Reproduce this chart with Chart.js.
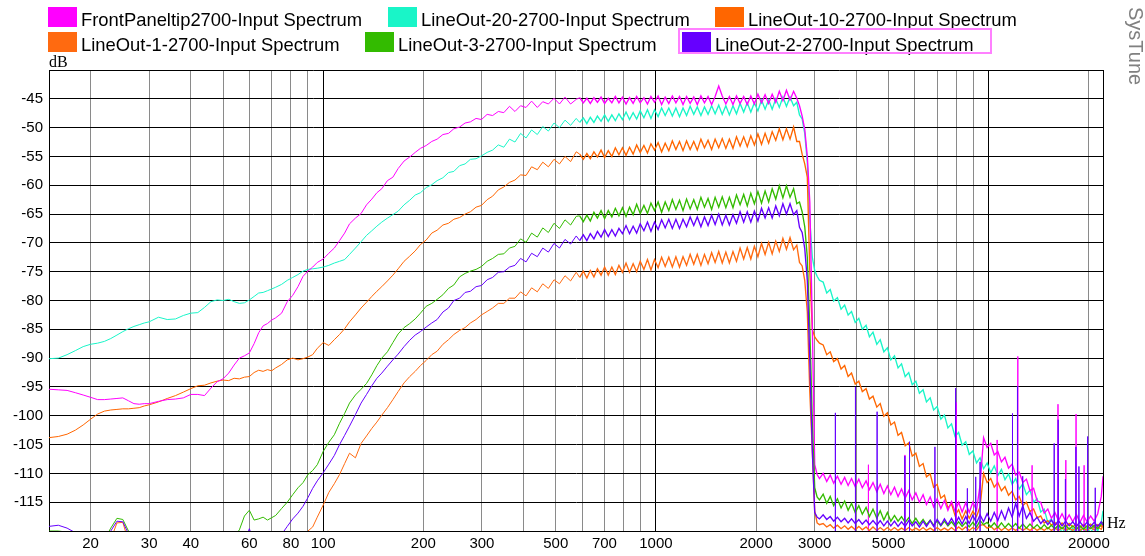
<!DOCTYPE html>
<html><head><meta charset="utf-8">
<script src="https://cdn.jsdelivr.net/npm/chart.js@4.4.1/dist/chart.umd.min.js"></script>
<style>html,body{margin:0;padding:0;background:#fff;}canvas{display:block;}</style>
</head><body>
<canvas id="c" width="1145" height="556"></canvas>
<script>
// ---- data ----
const freqHz = [
// A 15-100
15,16,17,18,19,20,21,22,23,24, 25,26,27,28,29,30,32,34,36,38, 40,42,44,46,48,50,52,54,56,58, 60,62,64,66,68,70,72,75,78,81, 84,87,90,93,96,100,
// B 104-576
104,108,112,116,120,125,130,135,140,145, 150,156,162,168,175,182,189,196,204,212, 220,229,238,247,257,267,277,288,299,311, 323,336,349,363,377,392,407,423,440,457, 475,494,513,533,554,576,
// C 590-2700
590,605,620,635,651,667,684,701,719,737, 755,774,793,813,833,854,875,897,920,943, 966,990,1015,1040,1066,1093,1120,1148,1177,1206,
1236,1267,1299,1331,1365,1399,1434,1470,1506,1544, 1582,1622,1662,1704,1746,1790,1835,1881,1928,1976, 2025,2076,2128,2181,2235,2291,2348,2407,2467,2529, 2592,2650,2700,
// D roll-off
2750,2800,2850,2900,2950,3000,3050,3100,
// E 3180-22050
3180,3260,3340,3420,3510,3600,3690,3780,3870,3970, 4070,4170,4280,4380,4490,4610,4720,4840,4960,5080,
5210,5340,5470,5610,5750,5890,6040,6190,6350,6500, 6670,6830,7000,7180,7360,7540,7730,7920,8120,8320,
8530,8740,8960,9190,9420,9650,9890,10140,10390,10650, 10920,11190,11470,11760,12050,12350,12660,12980,13300,13640,
13980,14330,14680,15050,15430,15810,16210,16610,17030,17450, 17890,18340,18790,19260,19750,20240,20750,21260,21790,22050];

const frontPanelTip = [
-95.4,-95.5,-95.6,-96.0,-96.4,-96.8,-97.2,-97.2,-97.1,-97.0, -96.9,-97.4,-97.9,-98.0,-97.9,-97.9,-97.5,-97.2,-97.1,-96.9,
-96.3,-96.3,-96.5,-95.2,-94.1,-93.6,-92.6,-91.2,-90.0,-89.6, -89.1,-87.5,-85.6,-84.4,-84.0,-83.4,-83.0,-82.2,-80.2,-79.1,
-77.6,-75.8,-74.9,-74.2,-73.4,-72.8,
-71.8,-70.9,-69.6,-68.3,-66.7,-65.7,-64.9,-63.4,-62.4,-61.3, -60.6,-59.2,-58.6,-57.1,-55.8,-55.1,-54.3,-53.6,-53.1,-52.4,
-52.0,-51.2,-51.0,-50.2,-49.9,-49.2,-49.0,-48.4,-48.6,-47.7, -47.9,-47.2,-47.4,-46.3,-47.2,-46.2,-46.5,-45.4,-46.5,-45.5,
-45.9,-44.9,-45.9,-44.7,-45.9,-45.1,
-44.8,-45.7,-44.9,-45.8,-44.8,-45.6,-44.7,-45.8,-44.9,-45.7, -44.6,-45.7,-44.7,-45.9,-44.8,-45.8,-44.6,-45.7,-44.8,-45.9,
-44.6,-45.6,-44.5,-46.0,-44.7,-45.8,-44.5,-45.7,-44.6,-46.0, -44.6,-45.8,-44.7,-46.0,-44.5,-45.7,-44.6,-46.0,-44.6,-42.8,
-44.5,-45.9,-44.6,-46.0,-44.5,-45.8,-44.6,-46.0,-44.5,-45.9, -44.2,-45.7,-44.3,-45.8,-44.2,-45.6,-43.7,-45.3,-43.5,-45.2,
-43.7,-44.9,-46.2,
-48.0,-50.3,-55.0,-63.0,-84.0,-108.5,-110.2,-110.9,
-110.0,-111.4,-110.3,-111.7,-110.5,-111.9,-110.7,-112.1,-110.9,-112.3, -111.0,-112.5,-111.3,-112.8,-111.6,-113.2,-111.9,-113.5,-112.2,-113.7,
-112.4,-114.0,-112.7,-114.3,-113.0,-114.6,-113.4,-115.0,-113.7,-115.4, -114.1,-115.8,-114.4,-116.1,-114.7,-116.4,-114.9,-116.6,-115.0,-116.7,
-115.1,-116.8,-115.0,-116.4,-112.0,-103.8,-105.5,-104.8,-106.8,-106.2, -108.0,-107.2,-109.1,-108.4,-110.3,-109.8,-111.6,-111.0,-113.0,-112.6,
-114.8,-115.0,-116.9,-116.2,-117.8,-116.8,-118.2,-117.0,-118.3,-117.2, -118.4,-117.1,-118.5,-117.3,-118.4,-117.4,-118.3,-117.0,-114.0,-110.5];

const lineOut20 = [
-90.1,-90.0,-89.4,-88.7,-88.0,-87.6,-87.4,-87.1,-86.6,-86.0, -85.4,-84.9,-84.5,-84.2,-83.9,-83.7,-82.9,-83.3,-83.2,-82.6,
-82.2,-82.1,-81.2,-80.2,-79.9,-80.0,-79.8,-80.2,-80.5,-80.4, -79.9,-79.3,-78.7,-78.6,-78.3,-78.0,-77.7,-77.2,-76.5,-76.0,
-75.5,-74.9,-74.6,-74.5,-74.4,-74.2,
-73.9,-73.5,-73.2,-72.9,-72.0,-70.9,-69.8,-68.7,-67.9,-67.1, -66.4,-65.7,-65.1,-64.5,-63.4,-62.6,-61.7,-61.3,-60.4,-59.9,
-59.2,-58.7,-57.8,-57.6,-56.6,-56.3,-55.5,-55.4,-54.9,-54.3, -53.9,-53.0,-53.4,-52.0,-52.5,-51.0,-51.8,-50.4,-51.2,-49.8,
-50.6,-49.2,-50.0,-48.7,-49.6,-48.4,
-49.1,-48.3,-49.3,-48.2,-49.1,-48.0,-48.9,-47.8,-48.9,-47.8, -48.8,-47.6,-48.6,-47.3,-48.6,-47.4,-48.5,-47.1,-48.3,-46.9,
-48.4,-46.9,-48.1,-46.6,-47.9,-46.6,-48.0,-46.6,-48.1,-46.6, -47.9,-46.3,-47.7,-46.4,-47.9,-46.4,-47.7,-46.2,-47.6,-46.1,
-47.7,-46.2,-47.8,-46.2,-47.6,-45.8,-47.3,-45.7,-47.3,-45.7, -47.1,-45.2,-46.8,-45.2,-46.8,-45.0,-46.5,-44.7,-46.3,-44.7,
-46.2,-45.6,-47.8,
-48.5,-51.0,-56.0,-66.0,-72.5,-74.8,-75.8,-76.5,
-76.8,-78.7,-78.1,-80.1,-79.5,-81.5,-80.8,-82.5,-81.9,-83.8, -83.1,-85.0,-84.3,-86.3,-85.5,-87.6,-86.8,-88.9,-88.2,-90.3,
-89.6,-91.7,-91.0,-93.2,-92.5,-94.6,-94.0,-96.1,-95.5,-97.6, -96.9,-99.0,-98.4,-100.6,-99.9,-102.1,-101.4,-103.6,-102.9,-105.1,
-104.5,-106.7,-106.1,-108.2,-107.3,-109.2,-108.2,-109.9,-108.7,-110.4, -109.3,-111.1,-110.1,-111.9,-110.9,-112.7,-111.8,-113.7,-112.9,-115.0,
-114.4,-116.7,-116.2,-118.5,-117.9,-119.6,-119.0,-120.3,-119.4,-120.5, -119.5,-120.4,-119.6,-120.5,-119.4,-120.3,-119.2,-120.0,-118.5,-116.5];

const lineOut10 = [
-103.8,-103.6,-103.2,-102.5,-101.6,-100.6,-99.7,-99.2,-99.0,-98.9, -98.8,-98.8,-98.7,-98.6,-98.3,-98.1,-97.6,-97.0,-96.5,-95.9,
-95.3,-94.8,-94.7,-94.3,-94.0,-93.8,-93.9,-93.5,-93.6,-93.3, -93.2,-92.5,-92.1,-92.3,-92.0,-92.2,-91.7,-91.1,-90.3,-90.0,
-90.3,-90.1,-89.8,-89.4,-88.3,-87.3,
-87.8,-86.8,-85.9,-84.9,-83.7,-82.5,-81.3,-80.3,-79.3,-78.4, -77.6,-76.6,-75.6,-74.5,-73.2,-72.3,-71.4,-70.3,-69.5,-68.3,
-67.8,-66.9,-66.6,-65.9,-65.6,-65.0,-64.6,-63.8,-63.5,-62.5, -61.9,-60.8,-60.3,-59.5,-59.1,-58.2,-58.3,-56.8,-57.3,-56.0,
-56.8,-55.5,-56.3,-55.0,-55.9,-54.2,
-54.6,-55.5,-54.5,-55.4,-54.2,-55.1,-53.9,-55.2,-54.0,-55.0, -53.5,-54.7,-53.5,-54.8,-53.4,-54.6,-53.0,-54.3,-53.1,-54.4,
-52.8,-53.9,-52.6,-54.2,-52.7,-54.0,-52.3,-53.8,-52.4,-54.0, -52.3,-53.8,-52.4,-53.9,-52.0,-53.5,-52.2,-53.8,-52.0,-53.5,
-51.9,-53.6,-52.0,-53.6,-51.6,-53.2,-51.6,-53.3,-51.4,-53.0, -51.1,-52.9,-51.0,-52.7,-50.7,-52.2,-50.2,-52.1,-50.2,-52.0,
-49.9,-52.4,-52.4,
-54.6,-56.3,-58.6,-75.0,-85.0,-86.3,-86.9,-87.4,
-87.7,-89.4,-88.9,-90.6,-90.1,-91.9,-91.3,-93.2,-92.6,-94.5, -94.0,-95.8,-95.3,-97.1,-96.6,-98.5,-97.9,-100.1,-99.5,-101.6,
-101.1,-103.4,-102.9,-105.2,-104.7,-107.0,-106.5,-108.8,-108.3,-110.6, -110.1,-112.4,-111.9,-114.3,-113.8,-116.0,-115.3,-117.3,-116.3,-117.9,
-116.5,-117.8,-116.6,-117.5,-115.8,-110.0,-111.6,-110.9,-112.4,-111.6, -113.0,-112.3,-113.8,-113.1,-114.6,-114.0,-115.6,-115.0,-116.6,-116.2,
-117.7,-117.4,-118.6,-118.2,-119.0,-118.5,-119.2,-118.6,-119.3,-118.7, -119.3,-118.8,-119.4,-118.9,-119.3,-118.8,-119.4,-118.9,-119.2,-118.8];

const lineOut1 = [
-122,-122,-122,-122,-122,-122,-122,-122,-121.5,-118.6, -118.5,-121.8,-122,-122,-122,-122,-122,-122,-122,-122,
-122,-122,-122,-122,-122,-122,-122,-122,-122,-122, -122,-122,-122,-122,-122,-122,-122,-122,-122,-122,
-122,-121.0,-120.0,-119.3,-117.6,-115.5,
-113.3,-111.8,-110.2,-108.3,-106.5,-107.3,-104.8,-103.5,-102.2,-101.1, -99.9,-98.6,-97.2,-95.8,-94.3,-93.2,-92.3,-91.3,-90.4,-89.4,
-88.8,-87.6,-86.8,-85.9,-85.2,-84.7,-83.9,-83.3,-82.5,-81.9, -81.3,-80.5,-80.5,-79.6,-79.6,-78.5,-79.2,-77.8,-78.5,-77.1,
-77.9,-76.4,-77.1,-75.7,-76.6,-75.1,
-76.0,-74.9,-76.1,-74.8,-75.9,-74.5,-75.6,-74.2,-75.6,-74.2, -75.5,-73.9,-75.1,-73.5,-75.1,-73.6,-75.0,-73.2,-74.6,-72.9,
-74.7,-72.9,-74.3,-72.5,-74.1,-72.5,-74.2,-72.4,-74.2,-72.4, -73.9,-72.0,-73.7,-72.0,-73.9,-72.0,-73.6,-71.7,-73.4,-71.5,
-73.5,-71.6,-73.5,-71.5,-73.2,-70.9,-72.8,-70.8,-72.8,-70.6, -72.4,-70.1,-72.0,-69.9,-71.9,-69.7,-71.5,-69.2,-71.1,-69.1,
-71.2,-70.4,-73.4,
-74.0,-76.5,-82.0,-96.0,-106.0,-116.5,-118.6,-118.9,
-118.7,-119.3,-118.9,-119.5,-119.0,-119.6,-119.1,-119.7,-119.2,-119.8, -119.2,-119.8,-119.3,-119.9,-119.3,-119.9,-119.4,-119.9,-119.4,-119.9,
-119.4,-119.9,-119.5,-119.9,-119.4,-119.9,-119.5,-119.9,-119.4,-119.9, -119.5,-119.9,-119.4,-119.9,-119.5,-119.9,-119.4,-119.9,-119.3,-119.8,
-119.3,-119.9,-119.4,-119.8,-119.0,-118.9,-119.5,-119.2,-119.8,-119.3, -119.9,-119.4,-119.9,-119.5,-119.9,-119.4,-119.9,-119.5,-119.9,-119.4,
-119.9,-119.5,-119.9,-119.4,-119.9,-119.5,-119.9,-119.4,-119.9,-119.5, -119.9,-119.4,-119.9,-119.5,-119.9,-119.4,-119.8,-119.3,-119.7,-119.0];

const lineOut3 = [
-120.0,-120.0,-120.2,-121.0,-122,-122,-122,-121.5,-119.5,-117.8, -118.0,-120.0,-121.5,-122,-122,-122,-122,-122,-122,-122,
-122,-122,-122,-122,-122,-122,-122,-121.0,-119.8,-117.4, -116.4,-118.1,-117.9,-117.6,-118.1,-117.7,-117.3,-116.1,-115.0,-113.7,
-112.5,-111.6,-110.2,-109.5,-108.5,-106.2,
-104.6,-103.3,-101.3,-99.6,-97.8,-96.4,-95.4,-94.4,-92.9,-91.3, -90.0,-88.9,-87.3,-85.8,-84.7,-84.0,-83.2,-82.2,-81.0,-80.5,
-79.8,-79.0,-77.9,-77.3,-75.9,-75.3,-74.9,-74.6,-74.1,-73.2, -72.7,-72.0,-71.9,-70.9,-70.6,-69.3,-69.9,-68.3,-69.0,-67.4,
-68.2,-66.6,-67.5,-66.0,-66.9,-65.4,
-65.3,-66.3,-65.2,-66.2,-64.7,-65.7,-64.4,-65.8,-64.4,-65.5, -64.0,-65.3,-63.9,-65.4,-63.8,-65.1,-63.3,-64.9,-63.5,-64.9,
-63.1,-64.4,-62.9,-64.7,-62.9,-64.4,-62.5,-64.2,-62.6,-64.4, -62.4,-64.1,-62.5,-64.2,-62.1,-63.8,-62.3,-64.2,-62.1,-63.8,
-62.0,-63.9,-62.1,-63.9,-61.7,-63.4,-61.6,-63.6,-61.4,-63.2, -61.1,-63.1,-61.0,-62.9,-60.6,-62.4,-60.1,-62.2,-60.1,-62.1,
-60.6,-63.2,-62.9,
-64.6,-67.2,-72.5,-85.0,-101.0,-112.5,-114.1,-114.6,
-113.6,-115.2,-114.0,-115.6,-114.4,-116.0,-114.8,-116.4,-115.2,-116.8, -115.6,-117.1,-115.9,-117.5,-116.2,-117.8,-116.5,-118.1,-116.8,-118.3,
-117.3,-118.3,-117.5,-118.5,-117.7,-118.7,-117.8,-118.8,-118.0,-118.9, -118.1,-119.0,-118.2,-119.1,-118.3,-119.1,-118.4,-119.2,-118.4,-119.2,
-118.5,-119.3,-118.5,-119.3,-118.2,-118.9,-118.5,-119.3,-118.6,-119.4, -118.6,-119.4,-118.7,-119.4,-118.7,-119.5,-118.8,-119.5,-118.8,-119.5,
-118.9,-119.6,-118.9,-119.6,-119.0,-119.6,-119.0,-119.6,-119.0,-119.7, -119.1,-119.7,-119.1,-119.7,-119.1,-119.6,-119.0,-119.6,-118.8,-118.4];

const lineOut2 = [
-119.2,-119.0,-119.5,-120.3,-122,-122,-122,-121.5,-120.0,-118.3, -118.4,-120.5,-122,-122,-122,-122,-122,-122,-122,-122,
-122,-122,-122,-122,-122,-122,-122,-122,-122,-122, -119.6,-122,-122,-122,-122,-122,-122,-120.6,-119.2,-117.9,
-116.9,-115.7,-114.2,-112.6,-111.3,-109.9,
-108.4,-106.9,-105.0,-103.4,-101.8,-99.8,-97.8,-96.3,-94.8,-93.5, -92.6,-91.4,-90.3,-89.3,-88.0,-86.9,-86.0,-85.4,-84.6,-83.9,
-83.3,-82.0,-81.3,-80.0,-79.6,-78.6,-78.4,-77.6,-77.4,-76.4, -76.0,-75.1,-75.0,-74.2,-73.9,-72.7,-73.3,-71.8,-72.4,-70.9,
-71.6,-70.1,-70.9,-69.4,-70.2,-68.8,
-69.6,-68.6,-69.6,-68.4,-69.3,-68.0,-69.0,-67.7,-68.9,-67.7, -68.8,-67.5,-68.4,-67.0,-68.4,-67.1,-68.3,-66.7,-67.9,-66.4,
-68.0,-66.4,-67.7,-66.0,-67.4,-65.9,-67.5,-65.9,-67.5,-65.9, -67.2,-65.5,-67.0,-65.5,-67.2,-65.5,-67.0,-65.2,-66.8,-65.0,
-66.9,-65.2,-66.9,-65.1,-66.6,-64.6,-66.4,-64.6,-66.4,-64.5, -66.2,-64.0,-65.7,-63.9,-65.7,-63.6,-65.3,-63.2,-65.0,-63.2,
-65.1,-64.4,-67.3,
-68.2,-71.0,-76.5,-90.5,-106.0,-116.8,-117.6,-117.9,
-117.2,-118.0,-117.5,-118.3,-117.6,-118.4,-117.8,-118.6,-117.9,-118.7, -118.0,-118.8,-118.1,-118.9,-118.2,-119.0,-118.2,-119.1,-118.3,-119.1,
-118.3,-119.2,-118.4,-119.2,-118.2,-119.1,-118.4,-119.3,-118.3,-119.2, -118.2,-119.2,-118.0,-119.0,-117.9,-118.9,-117.8,-118.9,-117.6,-118.8,
-117.5,-118.7,-117.3,-118.6,-117.2,-118.4,-117.0,-118.3,-116.8,-118.2, -116.5,-118.0,-116.0,-117.6,-115.2,-117.4,-115.6,-117.8,-116.8,-118.3,
-117.6,-118.7,-118.0,-118.9,-118.1,-119.0,-118.2,-119.1,-118.3,-119.1, -118.4,-119.2,-118.4,-119.2,-118.5,-119.2,-118.5,-119.2,-118.4,-119.0];

// narrow harmonic spikes above the noise floor
const frontSpikeHz = [4350,5600,7990,10600,12230,13500,16150,17050,18300,19350];
const frontSpikeDb = [-108.5,-106.8,-97.7,-104.2,-89.7,-108.6,-98.0,-107.7,-99.7,-108.6];
const lineOut2SpikeHz = [3461,3977,4620,5597,5781,6891,7954,8626,9139,9420,11788,12201,12650,15730,16170,17000,18281,18665,19830,20900];
const lineOut2SpikeDb = [-99.5,-95.0,-99.3,-107.0,-104.5,-105.4,-95.2,-112.6,-110.6,-108.0,-99.6,-94.9,-110.5,-104.8,-100.7,-111.0,-105.4,-108.8,-103.6,-112.5];

// axes
const xGridHz = [20,30,40,50,60,70,80,90,100,200,300,400,500,600,700,800,900,1000,2000,3000,4000,5000,6000,7000,8000,9000,10000,20000,22050];
const xLabelHz = [20,30,40,60,80,100,200,300,500,700,1000,2000,3000,5000,10000,20000];
const yGridDb = [-120,-115,-110,-105,-100,-95,-90,-85,-80,-75,-70,-65,-60,-55,-50,-45,-40];
const yLabelDb = [-115,-110,-105,-100,-95,-90,-85,-80,-75,-70,-65,-60,-55,-50,-45];

const seriesNames = ['FrontPaneltip2700-Input Spectrum','LineOut-20-2700-Input Spectrum','LineOut-10-2700-Input Spectrum','LineOut-1-2700-Input Spectrum','LineOut-3-2700-Input Spectrum','LineOut-2-2700-Input Spectrum'];
const seriesValues = [frontPanelTip, lineOut20, lineOut10, lineOut1, lineOut3, lineOut2];

// ---- styles ----
const seriesColors = ['#ff00ff','#19f5c8','#ff6600','#ff6a10','#33bb00','#6600ff'];
const seriesOrder = [3,5,4,2,1,0];
const legendPos = [[48,7],[388,7],[715,7],[48,32],[365,32],[682,32]];

function toPoints(xs, ys){ return xs.map((f,i)=>({x:f,y:ys[i]})); }
function spikePoints(xs, ys){
  const out=[];
  xs.forEach((f,i)=>{ out.push({x:f,y:-122},{x:f,y:ys[i]},{x:f,y:-122}); });
  return out;
}
const noisyWidth = {borderWidth: c => (c.p0.parsed.x >= 590 ? 1.35 : 1)};

const datasets = seriesNames.map((n,i)=>({
  label:n, data:toPoints(freqHz, seriesValues[i]), borderColor:seriesColors[i],
  backgroundColor:seriesColors[i], borderWidth:1, pointRadius:0, order:seriesOrder[i], fill:false,
  segment:noisyWidth
}));
datasets.push({label:'_s1', data:spikePoints(frontSpikeHz, frontSpikeDb), borderColor:seriesColors[0], borderWidth:1, pointRadius:0, order:3});
datasets.push({label:'_s2', data:spikePoints(lineOut2SpikeHz, lineOut2SpikeDb), borderColor:seriesColors[5], borderWidth:1, pointRadius:0, order:0});

const overlay = {
  id:'overlay',
  afterDraw(chart){
    const ctx = chart.ctx;
    ctx.save();
    ctx.font = '18.4px "Liberation Sans", Arial, sans-serif';
    ctx.textBaseline = 'alphabetic';
    ctx.textAlign = 'left';
    seriesNames.forEach((n,i)=>{
      const [bx,by] = legendPos[i];
      ctx.fillStyle = seriesColors[i];
      ctx.fillRect(bx, by, 29, 20);
      ctx.fillStyle = '#000';
      ctx.fillText(n, bx+33, by+19);
    });
    ctx.strokeStyle = '#ff80ff';
    ctx.lineWidth = 2;
    ctx.strokeRect(679, 29, 312, 24);
    ctx.fillStyle = '#000';
    ctx.font = '16px "Liberation Serif", "Times New Roman", serif';
    ctx.fillText('dB', 49, 67);
    ctx.fillText('Hz', 1107, 528);
    const bad = seriesValues.map((s,i)=>s.length!==freqHz.length?seriesNames[i]+':'+s.length:null).filter(Boolean);
    if (bad.length){ ctx.fillStyle='red'; ctx.fillText('LEN '+freqHz.length+' '+bad.join(' '), 300, 300); }
    ctx.translate(1129, 7);
    ctx.rotate(Math.PI/2);
    ctx.fillStyle = '#808080';
    ctx.font = '20px "Liberation Sans", Arial, sans-serif';
    ctx.fillText('SysTune', 0, 0);
    ctx.restore();
  }
};

const tickFont = {family:'"Liberation Sans", Arial, sans-serif', size:15};
new Chart(document.getElementById('c'), {
  type:'line',
  data:{datasets},
  options:{
    responsive:false, animation:false, devicePixelRatio:1, events:[],
    layout:{padding:{top:70,right:42,left:0,bottom:0}},
    plugins:{legend:{display:false}, tooltip:{enabled:false}, title:{display:false}},
    scales:{
      x:{type:'logarithmic', position:'bottom', min:15, max:22050, bounds:'data',
        afterBuildTicks:s=>{ s.ticks = xGridHz.map(v=>({value:v})); },
        afterFit:s=>{ s.height = 25; },
        ticks:{autoSkip:false, maxRotation:0, minRotation:0, padding:4, color:'#000', font:tickFont,
          callback:v=> xLabelHz.includes(v) ? String(v) : ''},
        grid:{drawTicks:false, lineWidth:1, color:c=>{ const v=c.tick&&c.tick.value; return (v===100||v===1000||v===10000||v===22050)?'#000':'#8a8a8a'; }},
        border:{color:'#000', width:1}
      },
      y:{type:'linear', min:-120, max:-40,
        afterBuildTicks:s=>{ s.ticks = yGridDb.map(v=>({value:v})); },
        afterFit:s=>{ s.width = 49; },
        ticks:{padding:6, color:'#000', font:tickFont, callback:v=> yLabelDb.includes(v) ? String(v) : ''},
        grid:{drawTicks:false, lineWidth:1, color:'#000'},
        border:{color:'#000', width:1}
      }
    }
  },
  plugins:[overlay]
});
</script>
</body></html>
